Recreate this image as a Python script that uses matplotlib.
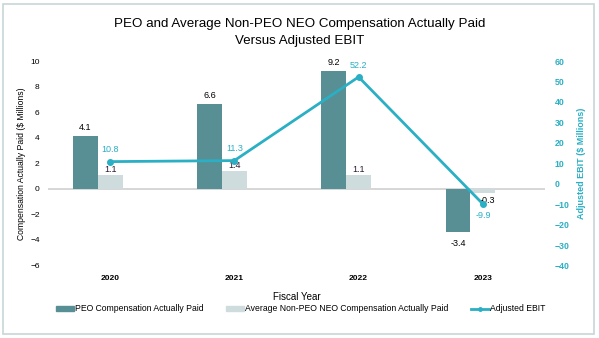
import numpy as np
import matplotlib
matplotlib.use("Agg")
from matplotlib import pyplot as plt
from matplotlib.patches import Rectangle, Patch
from matplotlib.lines import Line2D

# data
years = ["2020", "2021", "2022", "2023"]
peo_cap = [4.1, 6.6, 9.2, -3.4]
neo_cap = [1.1, 1.4, 1.1, -0.3]
ebit = [10.8, 11.3, 52.2, -9.9]

c_peo = "#588f94"
c_neo = "#cfdcde"
c_ebit = "#2aafc4"

plt.rcParams["font.family"] = ["Liberation Sans", "DejaVu Sans"]

fig = plt.figure(figsize=(5.99, 3.38), dpi=100)
fig.patches.append(Rectangle((3 / 599, 4 / 338), 591 / 599, 330 / 338, transform=fig.transFigure,
                             fill=False, edgecolor="#c8d5d8", linewidth=1.2))

ax = fig.add_axes([0.0801, 0.2145, 0.8297, 0.605])
ax2 = ax.twinx()

x = np.arange(len(years))
w = 0.2
ax.bar(x - w, peo_cap, w, color=c_peo, zorder=2)
ax.bar(x, neo_cap, w, color=c_neo, zorder=2)
ax.axhline(0, color="#cfcfcf", linewidth=1.2, zorder=1)

ax.set_xlim(-0.5, 3.5)
ax.set_ylim(-6, 10)
ax.set_yticks(range(-6, 11, 2))
ax.set_xticks(x)
ax.set_xticklabels(years, fontsize=6, fontweight="bold")
ax.tick_params(axis="x", length=0, pad=7)
ax.tick_params(axis="y", length=0, pad=6, labelsize=6)
for s in ax.spines.values():
    s.set_visible(False)
for s in ax2.spines.values():
    s.set_visible(False)

# bar labels
for i, v in enumerate(peo_cap):
    if v >= 0:
        ax.text(x[i] - w, v + 0.35, f"{v}", ha="center", va="bottom", fontsize=6.5)
    else:
        ax.text(x[i] - w, v - 0.55, f"{v}", ha="center", va="top", fontsize=6.5)
for i, v in enumerate(neo_cap):
    if v >= 0:
        ax.text(x[i], v + 0.05, f"{v}", ha="center", va="bottom", fontsize=6.5, color="#2a1a30")
    else:
        ax.text(x[i] + 0.04, v - 0.25, f"{v}", ha="center", va="top", fontsize=6.5)

# EBIT line
ax2.plot(x, ebit, color=c_ebit, linewidth=2, marker="o", markersize=4, zorder=3)
ax2.set_ylim(-40, 60)
ax2.set_yticks(range(-40, 61, 10))
ax2.tick_params(axis="y", length=0, pad=7, labelsize=6.3, labelcolor=c_ebit)
for t in ax2.get_yticklabels():
    t.set_fontweight("bold")
for i, v in enumerate(ebit):
    if v >= 0:
        ax2.text(x[i], v + 3.5, f"{v}", ha="center", va="bottom", fontsize=6.5, color=c_ebit)
    else:
        ax2.text(x[i], v - 3.5, f"{v}", ha="center", va="top", fontsize=6.5, color=c_ebit)

ax.set_ylabel("Compensation Actually Paid ($ Millions)", fontsize=6.2, labelpad=3)
ax2.set_ylabel("Adjusted EBIT ($ Millions)", fontsize=6.5, color=c_ebit, fontweight="bold", labelpad=5)
ax.set_xlabel("Fiscal Year", fontsize=7, labelpad=7)

fig.text(0.5, 0.903, "PEO and Average Non-PEO NEO Compensation Actually Paid\nVersus Adjusted EBIT",
         ha="center", va="center", fontsize=9.6, linespacing=1.55)

handles = [Patch(color=c_peo), Patch(color=c_neo),
           Line2D([], [], color=c_ebit, linewidth=2, marker="o", markersize=2.5)]
labels = ["PEO Compensation Actually Paid", "Average Non-PEO NEO Compensation Actually Paid", "Adjusted EBIT"]
fig.legend(handles, labels, loc="center", bbox_to_anchor=(0.502, 0.086), ncol=3, frameon=False,
           fontsize=6.2, handlelength=2.1, handleheight=0.6, handletextpad=0.15, columnspacing=2.6)

fig.savefig("out.png", dpi=100)
